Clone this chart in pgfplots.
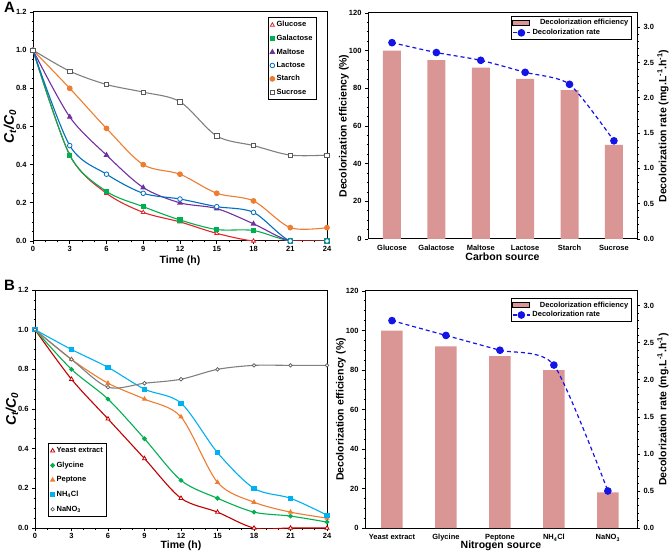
\documentclass[border=0pt]{standalone}
\usepackage{pgfplots}
\pgfplotsset{compat=1.18}
\usepackage{fontspec}
\setmainfont{Liberation Sans}
\definecolor{cglu}{HTML}{E0262A}
\definecolor{cgal}{HTML}{00B050}
\definecolor{cmal}{HTML}{7030A0}
\definecolor{clac}{HTML}{0070C0}
\definecolor{csta}{HTML}{ED7D31}
\definecolor{csuc}{HTML}{808080}
\definecolor{cyea}{HTML}{C00000}
\definecolor{cnh}{HTML}{00B0F0}
\definecolor{barpink}{HTML}{D99694}
\definecolor{rateblue}{HTML}{1414E6}
\pgfplotsset{
 kin/.style={
  scale only axis, anchor=south west,
  xmin=0, xmax=24, ymin=0, ymax=1.2,
  xtick={0,3,...,24}, ytick={0,0.2,...,1.2},
  minor x tick num=2, minor y tick num=3,
  tick align=outside, xtick pos=bottom, ytick pos=left,
  major tick length=3pt, minor tick length=1.5pt,
  yticklabel style={/pgf/number format/.cd, fixed, fixed zerofill, precision=1},
  /pgf/number format/assume math mode=true,
  tick label style={font=\bfseries\fontsize{7.5}{8}\selectfont},
  xticklabel style={yshift=1pt},
  xlabel={Time (h)},
  ylabel={\fontsize{14}{14}\selectfont\itshape C\textsubscript{t}/C\textsubscript{0}},
  label style={font=\bfseries\fontsize{10.5}{12}\selectfont},
  ylabel style={at={([xshift=-23pt]axis description cs:0,0.5)}, anchor=center},
  axis line style={line width=1pt},
  tick style={line width=0.8pt, black},
  every axis plot/.append style={line width=1.1pt, mark size=2.3pt},
  legend cell align=left,
  legend image code/.code={\draw[#1] plot coordinates {(0.1cm,0cm)};},
 },
 bars/.style={
  scale only axis, anchor=south west,
  ymin=0, ymax=120, ytick={0,20,...,120}, minor y tick num=3,
  tick align=outside, ytick pos=left, xtick=data,
  major tick length=3pt, minor tick length=1.5pt,
  x tick style={draw=none},
  /pgf/number format/assume math mode=true,
  tick label style={font=\bfseries\fontsize{7.5}{8}\selectfont},
  label style={font=\bfseries\fontsize{10.5}{12}\selectfont},
  ylabel={Decolorization efficiency (\%)},
  ylabel style={at={([xshift=-24pt]axis description cs:0,0.5)}, anchor=center},
  xlabel style={at={([yshift=-18pt]axis description cs:0.5,0)}, anchor=center},
  axis line style={line width=1pt},
  tick style={line width=0.8pt, black},
 },
 rate/.style={
  scale only axis, anchor=south west,
  ymin=0, ymax=3.2, ytick={0,0.5,...,3},
  minor y tick num=4, tick align=outside,
  axis y line*=right, axis x line=none,
  major tick length=3pt, minor tick length=1.5pt,
  yticklabel style={/pgf/number format/.cd, fixed, fixed zerofill, precision=1},
  /pgf/number format/assume math mode=true,
  tick label style={font=\bfseries\fontsize{7.5}{8}\selectfont},
  label style={font=\bfseries\fontsize{10.5}{12}\selectfont},
  ylabel={Decolorization rate (mg.L\textsuperscript{-1}.h\textsuperscript{-1})},
  ylabel style={at={([xshift=26pt]axis description cs:1,0.5)}, anchor=center},
  axis line style={line width=1pt},
  tick style={line width=0.8pt, black},
  legend cell align=left,
  legend style={font=\bfseries\fontsize{7.5}{8}\selectfont, draw=black, line width=1pt, inner sep=1pt, row sep=-1pt},
 },
}
\begin{document}
\begin{tikzpicture}[x=1pt,y=1pt]
\path[use as bounding box] (0,0) rectangle (669,552);
\node[anchor=north west, font=\bfseries\fontsize{15}{15}\selectfont, inner sep=0pt] at (4,550) {A};
\node[anchor=north west, font=\bfseries\fontsize{15}{15}\selectfont, inner sep=0pt] at (4,272) {B};

% Panel A left
\begin{axis}[kin, at={(33pt,311pt)}, width=294pt, height=229pt,
  xlabel style={at={([yshift=-20pt]axis description cs:0.5,0)}, anchor=center},
  legend style={at={(0.966,0.978)}, anchor=north east, font=\bfseries\fontsize{7.5}{8}\selectfont, draw=black, line width=1pt, inner sep=2pt, row sep=2.6pt}]
\addplot[cglu, smooth, tension=0.5, mark=triangle*, mark options={fill=white, line width=0.8pt}] coordinates {(0,1)(3,0.45)(6,0.25)(9,0.15)(12,0.10)(15,0.04)(18,0)(21,0)(24,0)};
\addlegendentry{Glucose}
\addplot[cgal, smooth, tension=0.5, mark=square*, mark size=2pt] coordinates {(0,1)(3,0.45)(6,0.26)(9,0.18)(12,0.11)(15,0.06)(18,0.055)(21,0)(24,0)};
\addlegendentry{Galactose}
\addplot[cmal, smooth, tension=0.5, mark=triangle*] coordinates {(0,1)(3,0.65)(6,0.45)(9,0.28)(12,0.20)(15,0.17)(18,0.09)(21,0)(24,0)};
\addlegendentry{Maltose}
\addplot[clac, smooth, tension=0.5, mark=*, mark options={fill=white, line width=0.8pt}] coordinates {(0,1)(3,0.50)(6,0.35)(9,0.25)(12,0.22)(15,0.18)(18,0.15)(21,0)(24,0)};
\addlegendentry{Lactose}
\addplot[csta, smooth, tension=0.5, mark=*] coordinates {(0,1)(3,0.80)(6,0.59)(9,0.40)(12,0.35)(15,0.25)(18,0.21)(21,0.07)(24,0.07)};
\addlegendentry{Starch}
\addplot[csuc, smooth, tension=0.5, mark=square*, mark size=2.2pt, mark options={fill=white, draw=csuc!70!black, line width=0.7pt}] coordinates {(0,1)(3,0.89)(6,0.82)(9,0.78)(12,0.73)(15,0.55)(18,0.50)(21,0.45)(24,0.45)};
\addlegendentry{Sucrose}
\end{axis}

% Panel A right
\begin{axis}[bars, at={(368pt,313pt)}, width=269pt, height=226pt,
  xmin=-0.54, xmax=5.52, xtick={0,...,5},
  xticklabels={Glucose,Galactose,Maltose,Lactose,Starch,Sucrose},
  xlabel={Carbon source}]
\addplot[ybar, bar width=18pt, fill=barpink, draw=none] coordinates {(0,100)(1,95)(2,91)(3,85)(4,79)(5,50)};
\end{axis}
\begin{axis}[rate, at={(368pt,313pt)}, width=269pt, height=226pt,
  xmin=-0.54, xmax=5.52,
  legend style={at={(0.981,0.987)}, anchor=north east}]
\addlegendimage{area legend, fill=barpink, draw=none}
\addlegendentry{\quad Decolorization efficiency}
\addplot[rateblue, line width=1.2pt, dash pattern=on 4pt off 3pt, smooth, tension=0.4, mark=*, mark size=3.2pt, mark options={solid}] coordinates {(0,2.78)(1,2.64)(2,2.53)(3,2.36)(4,2.19)(5,1.39)};
\addlegendentry{Decolorization rate}
\end{axis}

% Panel B left
\begin{axis}[kin, at={(35pt,24pt)}, width=292pt, height=238pt,
  xlabel style={at={([yshift=-18pt]axis description cs:0.5,0)}, anchor=center},
  legend style={at={(0.045,0.046)}, anchor=south west, font=\bfseries\fontsize{7.5}{8}\selectfont, draw=black, line width=1pt, inner sep=2pt, row sep=3.8pt}]
\addplot[cyea, smooth, tension=0.5, mark=triangle*, mark options={fill=white, line width=0.8pt}] coordinates {(0,1)(3,0.75)(6,0.55)(9,0.35)(12,0.15)(15,0.08)(18,0)(21,0)(24,0)};
\addlegendentry{Yeast extract}
\addplot[cgal, smooth, tension=0.5, mark=*, mark size=1.8pt] coordinates {(0,1)(3,0.80)(6,0.65)(9,0.45)(12,0.24)(15,0.15)(18,0.08)(21,0.06)(24,0.03)};
\addlegendentry{Glycine}
\addplot[csta, smooth, tension=0.5, mark=triangle*, mark size=2pt] coordinates {(0,1)(3,0.85)(6,0.73)(9,0.65)(12,0.56)(15,0.23)(18,0.13)(21,0.08)(24,0.05)};
\addlegendentry{Peptone}
\addplot[cnh, smooth, tension=0.5, mark=square*, mark size=2pt] coordinates {(0,1)(3,0.90)(6,0.81)(9,0.70)(12,0.63)(15,0.38)(18,0.20)(21,0.15)(24,0.065)};
\addlegendentry{NH\textsubscript{4}Cl}
\addplot[csuc, smooth, tension=0.5, mark=*, mark size=1.8pt, mark options={fill=white, draw=csuc!70!black, line width=0.7pt}] coordinates {(0,1)(3,0.85)(6,0.71)(9,0.73)(12,0.75)(15,0.80)(18,0.82)(21,0.82)(24,0.82)};
\addlegendentry{NaNO\textsubscript{3}}
\end{axis}

% Panel B right
\begin{axis}[bars, at={(365pt,24pt)}, width=272pt, height=237pt,
  xmin=-0.5, xmax=4.54, xtick={0,...,4},
  xticklabels={Yeast extract,Glycine,Peptone,NH\textsubscript{4}Cl,NaNO\textsubscript{3}},
  xlabel={Nitrogen source}]
\addplot[ybar, bar width=21.5pt, fill=barpink, draw=none] coordinates {(0,100)(1,92)(2,87)(3,80)(4,18)};
\end{axis}
\begin{axis}[rate, at={(365pt,24pt)}, width=272pt, height=237pt,
  xmin=-0.5, xmax=4.54,
  legend style={at={(0.981,0.97)}, anchor=north east}]
\addlegendimage{area legend, fill=barpink, draw=none}
\addlegendentry{\quad Decolorization efficiency}
\addplot[rateblue, line width=1.2pt, dash pattern=on 4pt off 3pt, smooth, tension=0.4, mark=*, mark size=3.2pt, mark options={solid}] coordinates {(0,2.8)(1,2.6)(2,2.4)(3,2.2)(4,0.5)};
\addlegendentry{Decolorization rate}
\end{axis}
\end{tikzpicture}
\end{document}
